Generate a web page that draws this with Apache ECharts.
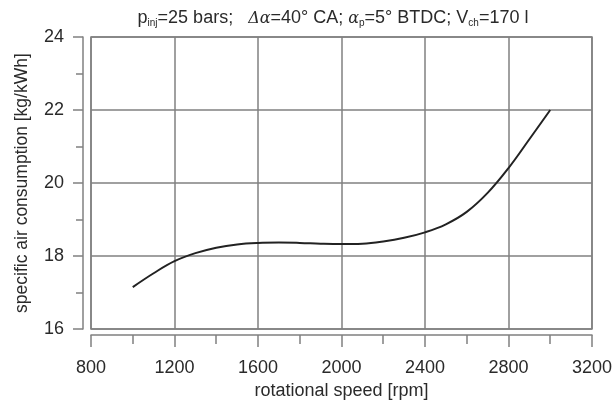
<!DOCTYPE html>
<html>
<head>
<meta charset="utf-8">
<script src="https://cdn.jsdelivr.net/npm/echarts@6/dist/echarts.min.js"></script>
<style>
  html, body { margin: 0; padding: 0; background: #fff; }
  #chart { width: 615px; height: 405px; }
</style>
</head>
<body>
<div id="chart"></div>
<script>
// Rotational speed [rpm] and specific air consumption [kg/kWh]
const speed = [1000, 1100, 1200, 1300, 1400, 1500, 1600, 1700, 1800, 1900, 2000,
               2100, 2200, 2300, 2400, 2500, 2600, 2700, 2800, 2900, 3000];
const airConsumption = [17.15, 17.53, 17.86, 18.08, 18.23, 18.32, 18.36, 18.37, 18.36, 18.34, 18.33,
                        18.34, 18.4, 18.5, 18.65, 18.87, 19.21, 19.73, 20.41, 21.2, 22.0];

const xTicks = [800, 1200, 1600, 2000, 2400, 2800, 3200];
const yTicks = [16, 18, 20, 22, 24];

const chart = echarts.init(document.getElementById('chart'), null, { renderer: 'canvas' });

const gridColor = '#808080';
const textColor = '#2a2a2a';
const font = 'Liberation Sans, Arial, sans-serif';

chart.setOption({
  animation: false,
  backgroundColor: '#fff',
  title: {
    text: 'p{sub|inj}=25 bars;   {it|Δα}=40° CA; {it|α}{sub|p}=5° BTDC; V{sub|ch}=170 l',
    left: 328,
    textAlign: 'center',
    top: 4,
    textStyle: {
      fontFamily: font,
      fontSize: 18,
      fontWeight: 'normal',
      color: textColor,
      rich: {
        sub: { fontFamily: font, fontSize: 10, color: textColor, verticalAlign: 'bottom', padding: [9, 0, 0, 0] },
        it: { fontFamily: 'DejaVu Serif, serif', fontStyle: 'italic', fontSize: 16, color: textColor }
      }
    }
  },
  grid: {
    left: 91,
    right: 17,
    top: 37,
    bottom: 72,
    show: true,
    borderColor: gridColor,
    borderWidth: 1.5,
    backgroundColor: 'transparent'
  },
  xAxis: {
    type: 'value',
    min: xTicks[0],
    max: xTicks[xTicks.length - 1],
    interval: 400,
    offset: 6,
    name: 'rotational speed [rpm]',
    nameLocation: 'middle',
    nameGap: 46,
    nameTextStyle: { fontFamily: font, fontSize: 18, color: textColor },
    axisLine: { show: true, onZero: false, lineStyle: { color: gridColor, width: 1.5 } },
    axisTick: { show: true, inside: false, length: 12, lineStyle: { color: gridColor, width: 1.5 } },
    minorTick: { show: true, splitNumber: 2, length: 9, lineStyle: { color: gridColor, width: 1.5 } },
    axisLabel: { margin: 24, fontFamily: font, fontSize: 18, color: textColor, formatter: v => String(v) },
    splitLine: { show: true, lineStyle: { color: gridColor, width: 1.5 } }
  },
  yAxis: {
    type: 'value',
    min: yTicks[0],
    max: yTicks[yTicks.length - 1],
    interval: 2,
    offset: 8,
    name: 'specific air consumption [kg/kWh]',
    nameLocation: 'middle',
    nameGap: 52,
    nameTextStyle: { fontFamily: font, fontSize: 17.5, color: textColor },
    axisLine: { show: true, onZero: false, lineStyle: { color: gridColor, width: 1.5 } },
    axisTick: { show: true, inside: false, length: 10, lineStyle: { color: gridColor, width: 1.5 } },
    minorTick: { show: true, splitNumber: 2, length: 7, lineStyle: { color: gridColor, width: 1.5 } },
    axisLabel: { margin: 19, fontFamily: font, fontSize: 18, color: textColor },
    splitLine: { show: true, lineStyle: { color: gridColor, width: 1.5 } }
  },
  series: [{
    type: 'line',
    data: speed.map((s, i) => [s, airConsumption[i]]),
    smooth: 0.4,
    showSymbol: false,
    lineStyle: { color: '#222', width: 2 }
  }]
});
</script>
</body>
</html>
